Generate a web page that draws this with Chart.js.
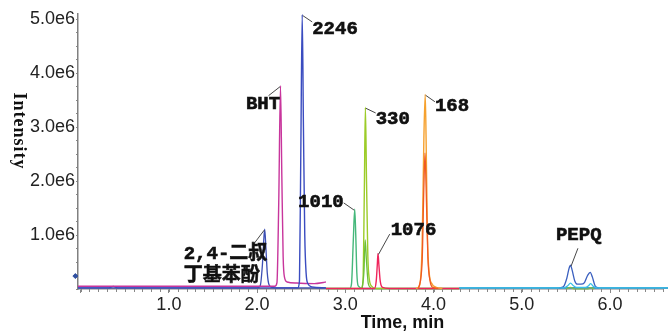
<!DOCTYPE html>
<html>
<head>
<meta charset="utf-8">
<script src="https://cdn.jsdelivr.net/npm/chart.js@4.4.1/dist/chart.umd.min.js"></script>
<style>
  html, body { margin: 0; padding: 0; background: #fff; }
  #wrap { width: 668px; height: 333px; position: relative; }
</style>
</head>
<body>
<div id="wrap"><canvas id="chromChart"></canvas></div>
<script>
// 时间 (min) / 强度 (×1e6)
const dtbpT = [-0.03, 0.32, 0.37, 0.42, 2.0, 2.035, 2.06, 2.075, 2.086, 2.1, 2.115, 2.135, 2.17, 2.25, 2.78];
const dtbpY = [0.02, 0.02, 0.05, 0.02, 0.02, 0.06, 0.45, 0.9, 1.11, 0.75, 0.3, 0.08, 0.03, 0.02, 0.02];

const bhtT = [-0.03, 2.2, 2.225, 2.245, 2.265, 2.28, 2.295, 2.31, 2.34, 2.45, 2.65, 2.75, 2.78];
const bhtY = [0.05, 0.05, 0.12, 1.6, 3.77, 2.1, 0.6, 0.22, 0.13, 0.11, 0.1, 0.12, 0.13];

const t2246 = [-0.03, 2.46, 2.48, 2.495, 2.511, 2.525, 2.54, 2.555, 2.575, 2.62, 2.78];
const y2246 = [0.02, 0.02, 0.15, 2.5, 5.09, 3.0, 1.0, 0.3, 0.1, 0.04, 0.02];

const t1010 = [2.78, 3.05, 3.07, 3.09, 3.106, 3.118, 3.13, 3.145, 3.2, 4.29];
const y1010 = [0.01, 0.01, 0.1, 0.9, 1.48, 1.0, 0.3, 0.06, 0.01, 0.01];

const t330 = [2.78, 3.18, 3.2, 3.215, 3.227, 3.24, 3.255, 3.27, 3.3, 3.35, 4.29];
const y330 = [0.01, 0.01, 0.15, 1.8, 3.37, 2.0, 0.6, 0.2, 0.05, 0.01, 0.01];
const t330b = [3.19, 3.21, 3.225, 3.24, 3.26, 3.29];
const y330b = [0.01, 0.3, 0.91, 0.5, 0.1, 0.02];

const t1076 = [2.78, 3.33, 3.35, 3.362, 3.37, 3.38, 3.395, 3.42, 3.5, 4.29];
const y1076 = [0.01, 0.01, 0.15, 0.45, 0.66, 0.45, 0.15, 0.03, 0.01, 0.01];

const t168 = [3.8, 3.84, 3.87, 3.89, 3.905, 3.915, 3.93, 3.95, 3.98, 4.03, 4.1];
const y168 = [0.01, 0.06, 0.8, 2.8, 3.61, 2.8, 1.0, 0.3, 0.1, 0.03, 0.01];
const t168b = [3.83, 3.87, 3.89, 3.903, 3.915, 3.935, 3.96, 3.99, 4.05];
const y168b = [0.01, 0.5, 1.9, 2.52, 1.9, 0.6, 0.15, 0.03, 0.01];

const tPepq = [5.42, 5.47, 5.51, 5.535, 5.552, 5.57, 5.6, 5.63, 5.67, 5.71, 5.745, 5.775, 5.8, 5.83, 5.87];
const yPepq = [0.02, 0.04, 0.2, 0.38, 0.44, 0.35, 0.15, 0.09, 0.09, 0.12, 0.25, 0.31, 0.22, 0.06, 0.02];
const tPepqB = [4.29, 5.48, 5.52, 5.552, 5.585, 5.62, 5.72, 5.755, 5.78, 5.81, 5.85, 6.67];
const yPepqB = [0.02, 0.02, 0.06, 0.11, 0.06, 0.03, 0.03, 0.06, 0.1, 0.05, 0.02, 0.02];
const tPepqC = [5.5, 5.552, 5.6, 5.75, 5.78, 5.82];
const yPepqC = [0.0, 0.03, 0.0, 0.0, 0.025, 0.0];

const tBase3 = [4.29, 6.67];
const yBase3 = [0.02, 0.02];

// 峰标注
const peakNames = [['2,4-二叔', '丁基苯酚'], ['BHT'], ['2246'], ['1010'], ['330'], ['1076'], ['168'], ['PEPQ']];
const peakTimes = [2.086, 2.265, 2.511, 3.106, 3.227, 3.37, 3.905, 5.552];
const peakHeights = [1.11, 3.77, 5.09, 1.48, 3.37, 0.66, 3.61, 0.44];

const markerT = [-0.06];
const markerY = [0.24];

const xTickLabels = [1, 2, 3, 4, 5, 6];
const yTickLabels = [1, 2, 3, 4, 5];

function pts(ts, ys) {
    return ts.map((t, i) => ({ x: t, y: ys[i] }));
}

function trace(data, color, width) {
    return {
        data: data,
        borderColor: color,
        borderWidth: width || 1.3,
        pointRadius: 0,
        cubicInterpolationMode: 'monotone',
        fill: false,
        clip: false
    };
}

// 标注位置 (像素偏移: 引线终点 dx, dy; 文字 dx, dy; 对齐)
const labelLayout = [
    [-11.6, 15.7, -81, 24.7, 'left'],
    [-12, 10, -17.5, 19, 'center'],
    [10, 7.4, 10, 14.2, 'left'],
    [-11, -6.3, -11, -6.5, 'right'],
    [10.3, 5.7, 10.3, 11.7, 'left'],
    [11.7, -19.3, 12.7, -22.8, 'left'],
    [9.7, 7.4, 9.7, 11.7, 'left'],
    [7.4, -17, 8.2, -30.5, 'center']
];

const annotatePlugin = {
    id: 'annotate',
    afterDatasetsDraw(chart) {
        const { ctx, scales: { x, y } } = chart;
        ctx.save();
        peakNames.forEach((lines, i) => {
            const px = x.getPixelForValue(peakTimes[i]);
            const py = y.getPixelForValue(peakHeights[i]);
            const [lx, ly, tx, ty, align] = labelLayout[i];
            ctx.strokeStyle = '#333';
            ctx.lineWidth = 0.9;
            ctx.beginPath();
            ctx.moveTo(px + Math.sign(lx) * 0.5, py + 1);
            ctx.lineTo(px + lx, py + ly);
            ctx.stroke();
            ctx.fillStyle = '#111';
            ctx.strokeStyle = '#111';
            ctx.lineWidth = 0.6;
            ctx.font = "bold 19px 'Liberation Mono', 'Noto Sans CJK SC', monospace";
            ctx.textAlign = align;
            ctx.textBaseline = 'middle';
            lines.forEach((s, j) => {
                ctx.fillText(s, px + tx, py + ty + j * 22.5);
                ctx.strokeText(s, px + tx, py + ty + j * 22.5);
            });
        });
        ctx.restore();
    },
    afterDraw(chart) {
        const { ctx, scales: { x } } = chart;
        ctx.save();
        // x 轴次刻度
        ctx.strokeStyle = '#888';
        ctx.lineWidth = 1;
        const bottom = chart.chartArea.bottom;
        for (let k = 0; k <= 66; k++) {
            const px = Math.round(x.getPixelForValue(k / 10)) + 0.5;
            ctx.beginPath();
            ctx.moveTo(px, bottom);
            ctx.lineTo(px, bottom + 3);
            ctx.stroke();
        }

        ctx.fillStyle = '#111';
        ctx.font = "bold 18px 'Liberation Sans', Arial, sans-serif";
        ctx.textAlign = 'center';
        ctx.textBaseline = 'middle';
        ctx.fillText('Time, min', 402.5, 323);

        ctx.translate(19, 131);
        ctx.rotate(Math.PI / 2);
        ctx.font = "bold 18px 'Liberation Serif', serif";
        ctx.letterSpacing = '1px';
        ctx.fillText('Intensity', 0, 0);
        ctx.restore();
    }
};

const datasets = [
    trace(pts(t2246, y2246), '#3a4cc0', 1.4),
    trace(pts(bhtT, bhtY), '#c8359c', 1.4),
    trace(pts(dtbpT, dtbpY), '#3c4fb4', 1.3),
    trace(pts(t168b, y168b), '#f05a22', 1.3),
    trace(pts(t168, y168), '#f6a12e', 1.4),
    trace(pts(t1076, y1076), '#f0245c', 1.4),
    trace(pts(t330b, y330b), '#6cbf3a', 1.3),
    trace(pts(t330, y330), '#9ccc28', 1.4),
    trace(pts(t1010, y1010), '#45b87a', 1.4),
    trace(pts(tPepqC, yPepqC), '#7cc242', 1.2),
    trace(pts(tPepqB, yPepqB), '#36c0e8', 1.3),
    trace(pts(tPepq, yPepq), '#3a5fbf', 1.3),
    trace(pts(tBase3, yBase3), '#4f94c4', 2),
    {
        data: pts(markerT, markerY),
        showLine: false,
        pointStyle: 'rectRot',
        pointRadius: 2.5,
        backgroundColor: '#3050a0',
        borderColor: '#3050a0',
        clip: false
    }
];

const ctx = document.getElementById('chromChart').getContext('2d');
new Chart(ctx, {
    type: 'line',
    data: { datasets: datasets },
    options: {
        responsive: true,
        maintainAspectRatio: false,
        animation: false,
        events: [],
        layout: { padding: { top: 14, right: 0, left: 0, bottom: 0 } },
        plugins: { legend: { display: false }, tooltip: { enabled: false } },
        scales: {
            x: {
                type: 'linear',
                min: -0.03,
                max: 6.6,
                afterFit(scale) { scale.height = 44; scale.paddingRight = 0; },
                border: { display: true, color: '#808080', width: 1.5 },
                grid: { drawOnChartArea: false, drawTicks: true, tickLength: 4, tickColor: '#888' },
                ticks: {
                    stepSize: 1,
                    includeBounds: false,
                    autoSkip: false,
                    maxRotation: 0,
                    padding: 1,
                    color: '#222',
                    font: { family: "'Liberation Sans', Arial, sans-serif", size: 18 },
                    callback: (v) => xTickLabels.includes(Math.round(v)) ? Number(v).toFixed(1) : ''
                }
            },
            y: {
                type: 'linear',
                min: 0,
                max: 5.1,
                afterFit(scale) { scale.width = 78; },
                border: { display: true, color: '#808080', width: 1.5 },
                grid: { drawOnChartArea: false, drawTicks: true, tickLength: 2, tickColor: '#888' },
                ticks: {
                    stepSize: 0.25,
                    includeBounds: false,
                    autoSkip: false,
                    padding: 1,
                    color: '#222',
                    font: { family: "'Liberation Sans', Arial, sans-serif", size: 18 },
                    callback: (v) => {
                        const r = Math.round(v);
                        return (Math.abs(v - r) < 1e-6 && yTickLabels.includes(r)) ? r.toFixed(1) + 'e6' : '';
                    }
                }
            }
        }
    },
    plugins: [annotatePlugin]
});
</script>
</body>
</html>
